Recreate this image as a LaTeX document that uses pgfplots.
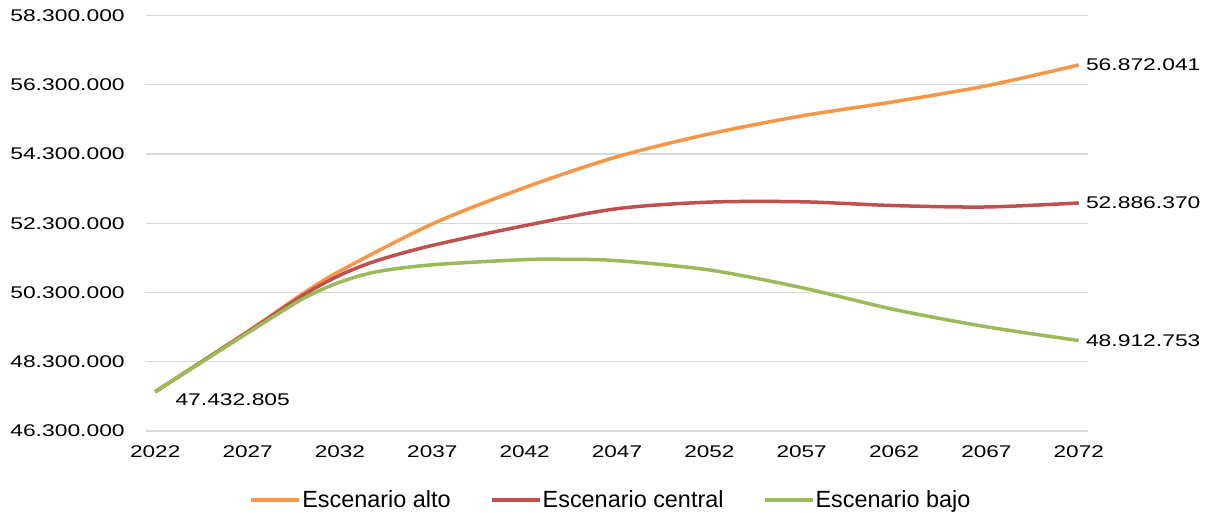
\documentclass[border=0pt]{standalone}
\usepackage{fontspec}
\setmainfont{Liberation Sans}
\usepackage{pgfplots}
\pgfplotsset{compat=1.18}
\definecolor{alto}{HTML}{F79646}
\definecolor{central}{HTML}{C0504D}
\definecolor{bajo}{HTML}{9BBB59}
\definecolor{gridgray}{HTML}{D9D9D9}

\begin{document}
\begin{tikzpicture}
\path[use as bounding box] (-146bp,-82bp) rectangle (1065bp,431bp);
\begin{axis}[
    at={(0,0)}, anchor=south west,
    scale only axis, width=942bp, height=415.5bp,
    xmin=2021.5, xmax=2072.5,
    ymin=46.3, ymax=58.3,
    xtick={2022,2027,2032,2037,2042,2047,2052,2057,2062,2067,2072},
    xticklabels={2022,2027,2032,2037,2042,2047,2052,2057,2062,2067,2072},
    ytick={46.3,48.3,50.3,52.3,54.3,56.3,58.3},
    yticklabels={46.300.000,48.300.000,50.300.000,52.300.000,54.300.000,56.300.000,58.300.000},
    axis line style={draw=none},
    tick style={draw=none},
    ymajorgrids=true,
    grid style={gridgray, line width=1.3bp},
    tick label style={font=\fontsize{17}{20}\selectfont, inner sep=0pt},
    yticklabel style={anchor=east, xshift=-21bp, xscale=1.35},
    xticklabel style={anchor=north, yshift=-14bp, xscale=1.33},
    clip=false,
    legend columns=3,
    legend style={at={(0.493,-0.166)}, anchor=center, draw=none,
        font=\fontsize{23.5}{27}\selectfont,
        nodes={inner sep=1bp},
        /tikz/every even column/.append style={column sep=38bp}},
    legend image code/.code={\draw[#1, line width=4bp] (0bp,0bp) -- (48bp,0bp);},
]

\addplot[alto, line width=3.5bp, smooth] coordinates {
(2022,47.432805) (2027,49.17) (2030,50.27) (2032,50.92) (2037,52.28) (2042,53.33)
(2047,54.22) (2052,54.88) (2057,55.40) (2062,55.81) (2067,56.27) (2072,56.872041)
};
\addlegendentry{Escenario alto}

\addplot[central, line width=3.5bp, smooth] coordinates {
(2022,47.432805) (2027,49.16) (2030,50.22) (2032,50.80) (2034,51.22) (2037,51.66) (2042,52.23)
(2047,52.72) (2052,52.91) (2057,52.92) (2062,52.81) (2067,52.77) (2072,52.88637)
};
\addlegendentry{Escenario central}

\addplot[bajo, line width=3.5bp, smooth] coordinates {
(2022,47.432805) (2027,49.13) (2030,50.12) (2032,50.60) (2034,50.90) (2037,51.10) (2042,51.25) (2044,51.26)
(2047,51.22) (2052,50.95) (2057,50.44) (2062,49.81) (2067,49.31) (2072,48.912753)
};
\addlegendentry{Escenario bajo}

\node[anchor=north west, inner sep=0pt, xshift=20bp, yshift=-2bp, xscale=1.35,
      font=\fontsize{17}{20}\selectfont] at (axis cs:2022,47.432805) {47.432.805};
\node[anchor=west, inner sep=0pt, xshift=7bp, xscale=1.35,
      font=\fontsize{17}{20}\selectfont] at (axis cs:2072,56.872041) {56.872.041};
\node[anchor=west, inner sep=0pt, xshift=7bp, xscale=1.35,
      font=\fontsize{17}{20}\selectfont] at (axis cs:2072,52.88637) {52.886.370};
\node[anchor=west, inner sep=0pt, xshift=7bp, xscale=1.35,
      font=\fontsize{17}{20}\selectfont] at (axis cs:2072,48.912753) {48.912.753};
\end{axis}
\end{tikzpicture}
\end{document}
